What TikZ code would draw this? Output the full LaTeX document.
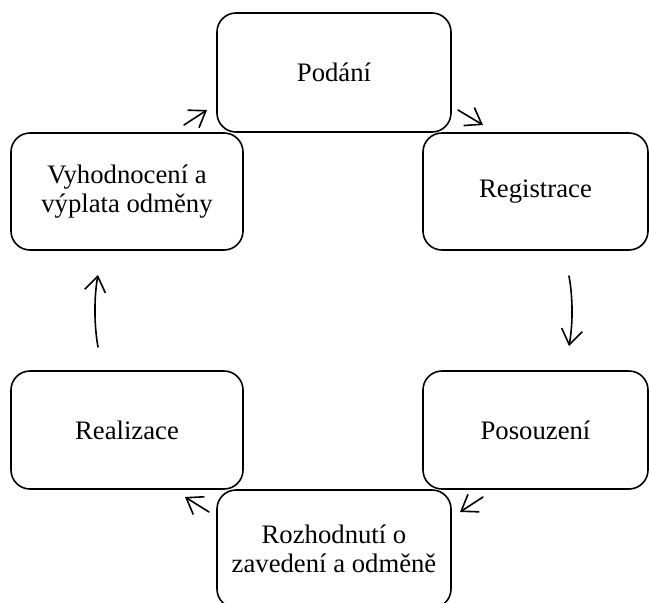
\documentclass[tikz,border=0pt]{standalone}
\usepackage{fontspec}
\setmainfont{Liberation Serif}
\usetikzlibrary{arrows.meta}
\begin{document}
\begin{tikzpicture}[x=1pt,y=-1pt,
  stage/.style={draw, line width=1.6pt, rounded corners=19pt, rectangle,
    align=center, inner sep=0pt,
    font=\fontsize{26.7}{29.5}\selectfont},
  flow/.style={line width=1.6pt, line cap=round,
    -{Straight Barb[length=15pt,width=21pt,line width=1.6pt]}}]
\useasboundingbox (0,0) rectangle (649,603);
\fill[white] (0,0) rectangle (649,603);

% process stages
\node[stage, minimum width=234pt, minimum height=119pt] (podani) at (334,72.5) {Podání};
\node[stage, minimum width=225pt, minimum height=117pt] (registrace) at (535.5,191.5) {Registrace};
\node[stage, minimum width=225pt, minimum height=118pt] (posouzeni) at (535.5,430) {Posouzení};
\node[stage, minimum width=234pt, minimum height=118pt] (rozhodnuti) at (334,549) {Rozhodnutí o\\zavedení a odměně};
\node[stage, minimum width=232pt, minimum height=118pt] (realizace) at (127,430) {Realizace};
\node[stage, minimum width=232pt, minimum height=117pt] (vyhodnoceni) at (127,191.5) {Vyhodnocení a\\výplata odměny};

% arrow end points between neighbouring stages
\coordinate (a1s) at (184,125);  \coordinate (a1e) at (207,110);
\coordinate (a2s) at (458,110);  \coordinate (a2e) at (483,125);
\coordinate (a3s) at (569,276);  \coordinate (a3e) at (569,346);
\coordinate (a4s) at (483,497);  \coordinate (a4e) at (460,512);
\coordinate (a5s) at (209,512);  \coordinate (a5e) at (185,497);
\coordinate (a6s) at (98,347);   \coordinate (a6e) at (98,275);

% cycle arrows
\draw[flow] (a1s) -- (a1e);
\draw[flow] (a2s) -- (a2e);
\draw[flow] (a3s) .. controls +(4,22) and +(4,-22) .. (a3e);
\draw[flow] (a4s) -- (a4e);
\draw[flow] (a5s) -- (a5e);
\draw[flow] (a6s) .. controls +(-4,-22) and +(-4,22) .. (a6e);
\end{tikzpicture}
\end{document}
